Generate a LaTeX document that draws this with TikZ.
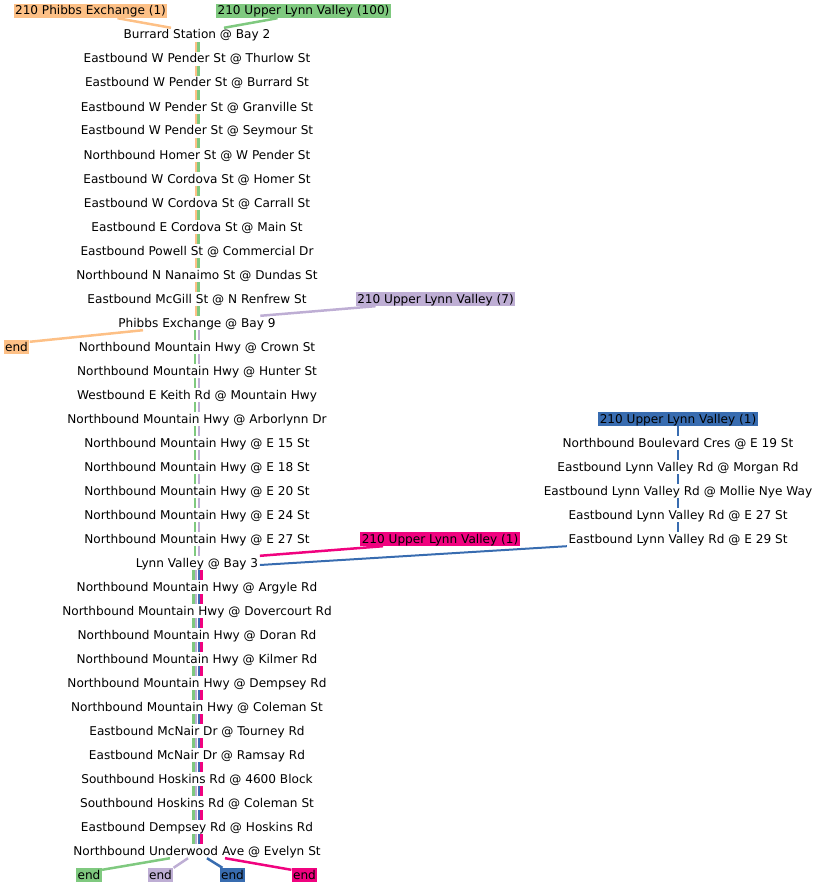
\documentclass[tikz,border=0pt]{standalone}
\usepackage{fontspec}
\setmainfont{DejaVu Sans}
\definecolor{accG}{HTML}{7FC97F}
\definecolor{accP}{HTML}{BEAED4}
\definecolor{accO}{HTML}{FDC086}
\definecolor{accB}{HTML}{386CB0}
\definecolor{accK}{HTML}{F0027F}
\begin{document}
\begin{tikzpicture}[x=1pt,y=-1pt,
  every node/.style={font=\fontsize{12.1}{14}\selectfont, text height=10pt, text depth=2pt, inner ysep=1pt, inner xsep=1.5pt},
  stop/.style={},
  lab/.style={fill=#1},
  edgeline/.style={draw=#1, line width=2.5pt},
  thinline/.style={draw=#1, line width=2pt}]
\useasboundingbox (0,0) rectangle (817,888);
% main column stops
\foreach \nm [count=\k from 0] in {
Burrard Station @ Bay 2,
Eastbound W Pender St @ Thurlow St,
Eastbound W Pender St @ Burrard St,
Eastbound W Pender St @ Granville St,
Eastbound W Pender St @ Seymour St,
Northbound Homer St @ W Pender St,
Eastbound W Cordova St @ Homer St,
Eastbound W Cordova St @ Carrall St,
Eastbound E Cordova St @ Main St,
Eastbound Powell St @ Commercial Dr,
Northbound N Nanaimo St @ Dundas St,
Eastbound McGill St @ N Renfrew St,
Phibbs Exchange @ Bay 9,
Northbound Mountain Hwy @ Crown St,
Northbound Mountain Hwy @ Hunter St,
Westbound E Keith Rd @ Mountain Hwy,
Northbound Mountain Hwy @ Arborlynn Dr,
Northbound Mountain Hwy @ E 15 St,
Northbound Mountain Hwy @ E 18 St,
Northbound Mountain Hwy @ E 20 St,
Northbound Mountain Hwy @ E 24 St,
Northbound Mountain Hwy @ E 27 St,
Lynn Valley @ Bay 3,
Northbound Mountain Hwy @ Argyle Rd,
Northbound Mountain Hwy @ Dovercourt Rd,
Northbound Mountain Hwy @ Doran Rd,
Northbound Mountain Hwy @ Kilmer Rd,
Northbound Mountain Hwy @ Dempsey Rd,
Northbound Mountain Hwy @ Coleman St,
Eastbound McNair Dr @ Tourney Rd,
Eastbound McNair Dr @ Ramsay Rd,
Southbound Hoskins Rd @ 4600 Block,
Southbound Hoskins Rd @ Coleman St,
Eastbound Dempsey Rd @ Hoskins Rd,
Northbound Underwood Ave @ Evelyn St}
{ \node[stop] (s\k) at (197,{35+24*\k}) {\nm}; }
% right column
\node[lab=accB] (r0) at (678,419) {210 Upper Lynn Valley (1)};
\foreach \nm [count=\k] in {
Northbound Boulevard Cres @ E 19 St,
Eastbound Lynn Valley Rd @ Morgan Rd,
Eastbound Lynn Valley Rd @ Mollie Nye Way,
Eastbound Lynn Valley Rd @ E 27 St,
Eastbound Lynn Valley Rd @ E 29 St}
{ \node[stop] (r\k) at (678,{419+24*\k}) {\nm}; }
% labels
\node[lab=accO] (lo) at (90.5,11) {210 Phibbs Exchange (1)};
\node[lab=accG] (lg) at (303.5,11) {210 Upper Lynn Valley (100)};
\node[lab=accP] (lp) at (435.5,299) {210 Upper Lynn Valley (7)};
\node[lab=accK] (lk) at (440,539) {210 Upper Lynn Valley (1)};
\node[lab=accO] (eo) at (16.5,347) {end};
\node[lab=accG] (eg) at (89,875) {end};
\node[lab=accP] (ep) at (160.5,875) {end};
\node[lab=accB] (eb) at (232.5,875) {end};
\node[lab=accK] (ek) at (304.5,875) {end};
% top edges
\draw[edgeline=accO] ([xshift=27pt]lo.south) -- ([xshift=-26pt]s0.north);
\draw[edgeline=accG] ([xshift=-26pt]lg.south) -- ([xshift=27pt]s0.north);
% main column strips
\foreach \i [evaluate=\i as \j using int(\i+1)] in {0,...,11} {
  \draw[edgeline=accO] ([xshift=-1pt]s\i.south) -- ([xshift=-1pt]s\j.north);
  \draw[edgeline=accG] ([xshift=1.6pt]s\i.south) -- ([xshift=1.6pt]s\j.north);
}
\foreach \i [evaluate=\i as \j using int(\i+1)] in {12,...,21} {
  \draw[edgeline=accG] ([xshift=-2pt]s\i.south) -- ([xshift=-2pt]s\j.north);
  \draw[edgeline=accP] ([xshift=2pt]s\i.south) -- ([xshift=2pt]s\j.north);
}
\foreach \i [evaluate=\i as \j using int(\i+1)] in {22,...,33} {
  \draw[edgeline=accG] ([xshift=-3.5pt]s\i.south) -- ([xshift=-3.5pt]s\j.north);
  \draw[edgeline=accP] ([xshift=-0.8pt]s\i.south) -- ([xshift=-0.8pt]s\j.north);
  \draw[edgeline=accB] ([xshift=1.8pt]s\i.south) -- ([xshift=1.8pt]s\j.north);
  \draw[edgeline=accK] ([xshift=4.4pt]s\i.south) -- ([xshift=4.4pt]s\j.north);
}
% right column
\foreach \i [evaluate=\i as \j using int(\i+1)] in {0,...,4} {
  \draw[thinline=accB] (r\i.south) -- (r\j.north);
}
% branch edges
\draw[edgeline=accO] ([xshift=-54pt]s12.south) -- ([yshift=-2pt]eo.north east);
\draw[edgeline=accP] ([xshift=-60pt]lp.south) -- ([xshift=-17pt]s12.north east);
\draw[edgeline=accK] ([xshift=-57pt]lk.south) -- (s22.north east);
\draw[thinline=accB] (r5.south west) -- ([yshift=-2pt]s22.east);
% bottom edges
\draw[edgeline=accG] ([xshift=-27pt]s34.south) -- ([yshift=-2pt]eg.north east);
\draw[edgeline=accP] ([xshift=-9pt]s34.south) -- (ep.north east);
\draw[edgeline=accB] ([xshift=10pt]s34.south) -- ([xshift=3pt]eb.north west);
\draw[edgeline=accK] ([xshift=28pt]s34.south) -- ([yshift=-2pt]ek.north west);
\end{tikzpicture}
\end{document}
